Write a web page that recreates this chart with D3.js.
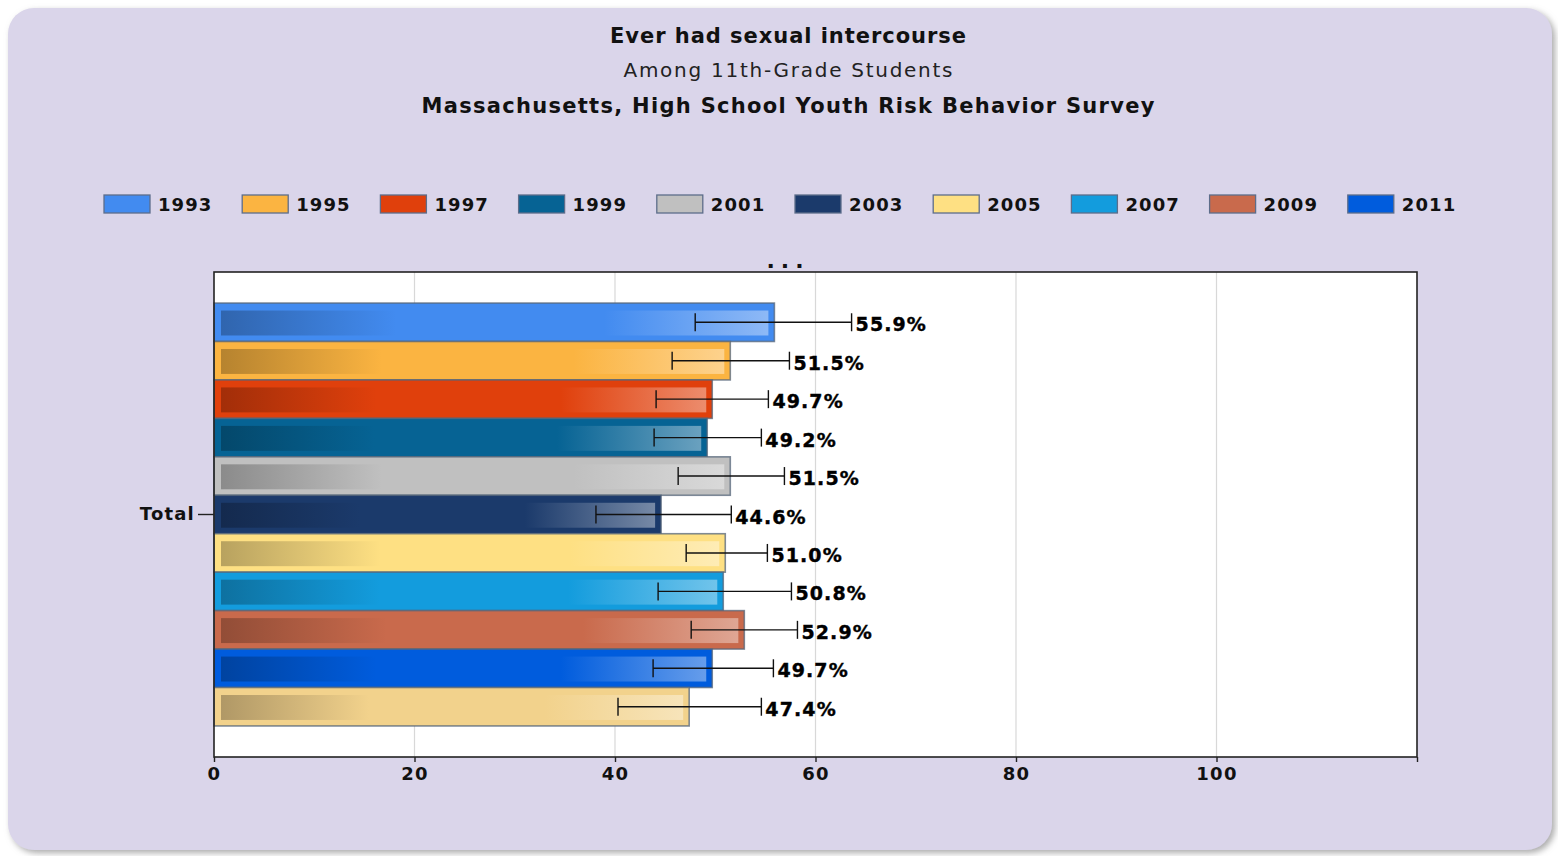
<!DOCTYPE html>
<html><head><meta charset="utf-8">
<script src="https://cdn.jsdelivr.net/npm/d3@7"></script>
<style>
html,body{margin:0;padding:0;background:#fff;}
svg{display:block;font-family:"DejaVu Sans",Verdana,sans-serif;}
</style></head>
<body><svg id="c" width="1558" height="856"></svg>
<script>
const titleLines = ["Ever had sexual intercourse","Among 11th-Grade Students","Massachusetts, High School Youth Risk Behavior Survey"];
const categories = ["Total"];
const years = ["1993","1995","1997","1999","2001","2003","2005","2007","2009","2011","2013"];
const values = [55.9,51.5,49.7,49.2,51.5,44.6,51.0,50.8,52.9,49.7,47.4];
const ciLow  = [48.0,45.7,44.1,43.9,46.3,38.1,47.1,44.3,47.6,43.8,40.3];
const ciHigh = [63.6,57.4,55.3,54.6,56.9,51.6,55.2,57.6,58.2,55.8,54.6];
const colors = ["#428bf0","#fbb441","#e0400c","#066394","#c0c0c0","#1b3a6b","#fee083","#139cdd","#c96a4c","#005cdd","#f2d28c"];
const xTicks = [0,20,40,60,80,100];
const legendCount = 10;

const svg = d3.select("#c");
const defs = svg.append("defs");
const f = defs.append("filter").attr("id","sh").attr("x","-5%").attr("y","-5%").attr("width","110%").attr("height","110%");
f.append("feDropShadow").attr("dx",3).attr("dy",3).attr("stdDeviation",3).attr("flood-color","#888").attr("flood-opacity",0.7);

svg.append("rect").attr("x",8).attr("y",8).attr("width",1544).attr("height",842).attr("rx",26)
  .attr("fill","#dad5ea").attr("filter","url(#sh)");

// titles
const cx = 788;
svg.append("text").attr("x",cx).attr("y",43).attr("text-anchor","middle").attr("font-size",21).attr("font-weight","bold").attr("fill","#111")
  .attr("textLength",356).attr("lengthAdjust","spacing").text(titleLines[0]);
svg.append("text").attr("x",cx).attr("y",77).attr("text-anchor","middle").attr("font-size",20).attr("fill","#222")
  .attr("textLength",329).attr("lengthAdjust","spacing").text(titleLines[1]);
svg.append("text").attr("x",cx).attr("y",113).attr("text-anchor","middle").attr("font-size",21).attr("font-weight","bold").attr("fill","#111")
  .attr("textLength",733).attr("lengthAdjust","spacing").text(titleLines[2]);

// legend
const lg = svg.append("g");
years.slice(0,legendCount).forEach((yr,i)=>{
  const lx = 104 + i*138.2;
  lg.append("rect").attr("x",lx).attr("y",195).attr("width",46).attr("height",18).attr("fill",colors[i]).attr("stroke","#5d6d8a").attr("stroke-width",1.3);
  lg.append("text").attr("x",lx+54).attr("y",211).attr("font-size",18).attr("font-weight","bold").attr("fill","#111")
    .attr("letter-spacing",1.1).text(yr);
});
svg.append("text").attr("x",cx).attr("y",268).attr("text-anchor","middle").attr("font-size",22).attr("font-weight","bold").attr("fill","#111").attr("letter-spacing",6).text("...");

// plot
const L=214,R=1417,T=272,B=757;
const x = d3.scaleLinear().domain([0,120]).range([L,R]);
const y0 = d3.scaleBand().domain(categories).range([T,B]).paddingInner(0.128).paddingOuter(0.064);
const y1 = d3.scaleBand().domain(years).range([0,y0.bandwidth()]);

svg.append("rect").attr("x",L).attr("y",T).attr("width",R-L).attr("height",B-T).attr("fill","#fff");
svg.append("g").selectAll("line").data(xTicks.filter(d=>d>0)).join("line")
  .attr("x1",d=>x(d)).attr("x2",d=>x(d)).attr("y1",T).attr("y2",B).attr("stroke","#d8d8d8").attr("stroke-width",1.2);

// gradients
years.forEach((yr,i)=>{
  const base = d3.color(colors[i]);
  const dark = base.darker(0.9);
  const light = d3.interpolateRgb(colors[i],"#ffffff")(0.4);
  const g = defs.append("linearGradient").attr("id","g"+i).attr("x1","0").attr("x2","1").attr("y1","0").attr("y2","0");
  g.append("stop").attr("offset","0").attr("stop-color",dark);
  g.append("stop").attr("offset","0.32").attr("stop-color",base);
  g.append("stop").attr("offset","0.7").attr("stop-color",base);
  g.append("stop").attr("offset","1").attr("stop-color",light);
});

const cat = categories[0];
const bars = svg.append("g");
years.forEach((yr,i)=>{
  const yy = y0(cat)+y1(yr);
  const h = y1.bandwidth();
  const w = x(values[i])-x(0);
  bars.append("rect").attr("x",x(0)).attr("y",yy).attr("width",w).attr("height",h)
    .attr("fill",colors[i]).attr("stroke","#56657a").attr("stroke-opacity",0.75).attr("stroke-width",1.6);
  bars.append("rect").attr("x",x(0)+7).attr("y",yy+7.5).attr("width",Math.max(0,w-13)).attr("height",h-13.5)
    .attr("fill","url(#g"+i+")");
});
// error bars
const eb = svg.append("g").attr("stroke","#111").attr("stroke-width",1.4);
years.forEach((yr,i)=>{
  const cy = y0(cat)+y1(yr)+y1.bandwidth()/2;
  eb.append("line").attr("x1",x(ciLow[i])).attr("x2",x(ciHigh[i])).attr("y1",cy).attr("y2",cy);
  eb.append("line").attr("x1",x(ciLow[i])).attr("x2",x(ciLow[i])).attr("y1",cy-9).attr("y2",cy+9);
  eb.append("line").attr("x1",x(ciHigh[i])).attr("x2",x(ciHigh[i])).attr("y1",cy-9).attr("y2",cy+9);
  svg.append("text").attr("x",x(ciHigh[i])+4).attr("y",cy+9).attr("font-size",19).attr("font-weight","bold")
    .attr("fill","#000").attr("stroke","#000").attr("stroke-width",0.4).attr("letter-spacing",1.1).text(values[i].toFixed(1)+"%");
});

// frame
svg.append("rect").attr("x",L).attr("y",T).attr("width",R-L).attr("height",B-T).attr("fill","none").attr("stroke","#222").attr("stroke-width",1.6);

// x axis
const xa = svg.append("g").attr("transform",`translate(0,${B})`)
  .call(d3.axisBottom(x).tickValues([...xTicks,120]).tickSize(5).tickFormat(d=>xTicks.includes(d)?d:""));
xa.select(".domain").remove();
xa.selectAll("line").attr("stroke","#222").attr("stroke-width",1.4);
xa.selectAll("text").attr("font-family","DejaVu Sans, Verdana, sans-serif").attr("font-size",18).attr("font-weight","bold").attr("fill","#111")
  .attr("letter-spacing",1.3).attr("dy","0.82em");

// y axis
const ya = svg.append("g").attr("transform",`translate(${L},0)`)
  .call(d3.axisLeft(y0).tickSize(16).tickPadding(3));
ya.select(".domain").remove();
ya.selectAll("line").attr("stroke","#222").attr("stroke-width",1.4);
ya.selectAll("text").attr("font-family","DejaVu Sans, Verdana, sans-serif").attr("font-size",18).attr("font-weight","bold").attr("fill","#111")
  .attr("letter-spacing",1.2);
</script></body></html>
